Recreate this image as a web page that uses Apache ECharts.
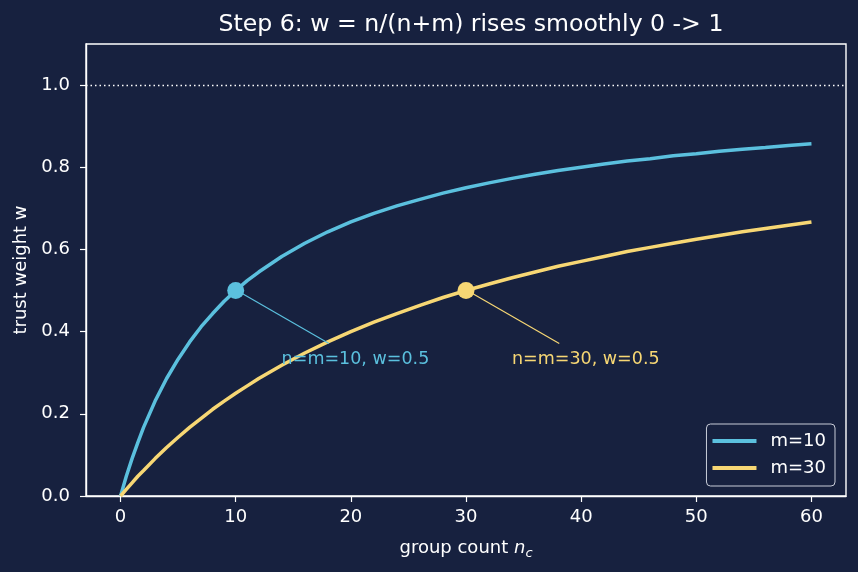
<!DOCTYPE html>
<html>
<head>
<meta charset="utf-8">
<script src="https://cdn.jsdelivr.net/npm/echarts@6/dist/echarts.min.js"></script>
<style>
  html, body { margin: 0; padding: 0; background: #17213f; }
  #chart { width: 858px; height: 572px; }
</style>
</head>
<body>
<div id="chart"></div>
<script>
// group counts n and the trust weight
const nValues = [0, 0.5, 1, 1.5, 2, 3, 4, 5, 6, 7, 8, 9, 10, 11, 12, 14, 16, 18, 20, 22, 24, 26, 28, 30,
  32, 34, 36, 38, 40, 42, 44, 46, 48, 50, 52, 54, 56, 58, 60]
const wM10 = [0, 0.048, 0.091, 0.13, 0.167, 0.231, 0.286, 0.333, 0.375, 0.412, 0.444, 0.474, 0.5, 0.524, 0.545,
  0.583, 0.615, 0.643, 0.667, 0.688, 0.706, 0.722, 0.737, 0.75, 0.762, 0.773, 0.783, 0.792, 0.8,
  0.808, 0.815, 0.821, 0.828, 0.833, 0.839, 0.844, 0.848, 0.853, 0.857]
const wM30 = [0, 0.016, 0.032, 0.048, 0.062, 0.091, 0.118, 0.143, 0.167, 0.189, 0.211, 0.231, 0.25, 0.268, 0.286,
  0.318, 0.348, 0.375, 0.4, 0.423, 0.444, 0.464, 0.483, 0.5, 0.516, 0.531, 0.545, 0.559, 0.571,
  0.583, 0.595, 0.605, 0.615, 0.625, 0.634, 0.643, 0.651, 0.659, 0.667]
const seriesNames = ['m=10', 'm=30']
const xTicks = [0, 10, 20, 30, 40, 50, 60]
const yTicks = [0, 0.2, 0.4, 0.6, 0.8, 1.0]
// highlighted points (n = m, w = 0.5) and their notes
const markN = [10, 30]
const markW = [0.5, 0.5]
const noteText = ['n=m=10, w=0.5', 'n=m=30, w=0.5']
const noteAt = [[20.4, 0.333], [40.4, 0.333]]
const arrowFrom = [[18.1, 0.371], [38.1, 0.371]]
const arrowTo = [[10.6, 0.492], [30.6, 0.492]]

const colors = ['#5bc0de', '#f7d774']
const fg = '#ffffff'
const font = 'DejaVu Sans'

function makeSeries (i, values) {
  return {
    name: seriesNames[i],
    type: 'line',
    showSymbol: false,
    data: nValues.map((n, k) => [n, values[k]]),
    lineStyle: { width: 3.5, color: colors[i] },
    itemStyle: { color: colors[i] },
    z: 3,
    markPoint: {
      silent: true,
      data: [
        { coord: [markN[i], markW[i]], symbol: 'circle', symbolSize: 17, itemStyle: { color: colors[i] }, label: { show: false } },
        { coord: noteAt[i], symbol: 'circle', symbolSize: 0,
          label: { show: true, formatter: noteText[i], color: colors[i], fontSize: 17.5, fontFamily: font, position: 'inside' } }
      ]
    },
    markLine: {
      silent: true,
      symbol: ['none', 'arrow'],
      symbolSize: [0, 7],
      label: { show: false },
      lineStyle: { color: colors[i], width: 1.2, type: 'solid' },
      data: [[{ coord: arrowFrom[i] }, { coord: arrowTo[i] }]]
    }
  }
}

const chart = echarts.init(document.getElementById('chart'))
const option = {
  backgroundColor: '#17213f',
  animation: false,
  textStyle: { fontFamily: font },
  title: {
    text: 'Step 6: w = n/(n+m) rises smoothly 0 -> 1',
    left: 466,
    textAlign: 'center',
    top: 8,
    textStyle: { color: fg, fontSize: 23.6, fontWeight: 'normal', fontFamily: font }
  },
  grid: {
    left: 86, right: 12, top: 44, bottom: 76,
    outerBoundsMode: 'none',
    show: true, borderColor: fg, borderWidth: 1.4, backgroundColor: 'transparent'
  },
  legend: {
    orient: 'vertical',
    right: 23,
    bottom: 86,
    backgroundColor: '#17213f',
    borderColor: '#c8ccd8',
    borderWidth: 1,
    borderRadius: 4,
    padding: [8, 9, 9, 6],
    itemGap: 9,
    itemWidth: 44,
    itemHeight: 4,
    icon: 'rect',
    textStyle: { color: fg, fontSize: 18, fontFamily: font, padding: [0, 0, 0, 9] },
    data: seriesNames
  },
  xAxis: {
    type: 'value',
    min: -3,
    max: 63,
    name: 'group count {i|n}{s|c}',
    nameLocation: 'middle',
    nameGap: 41,
    nameTextStyle: {
      color: fg, fontSize: 18, fontFamily: font,
      rich: {
        i: { fontStyle: 'italic', fontSize: 18, color: fg, fontFamily: font },
        s: { fontStyle: 'italic', fontSize: 13, color: fg, fontFamily: font, padding: [10, 0, 0, 0] }
      }
    },
    axisLine: { show: true, onZero: false, lineStyle: { color: fg, width: 1.4 } },
    axisTick: { show: true, length: 6, customValues: xTicks, lineStyle: { color: fg, width: 1.2 } },
    axisLabel: { color: fg, fontSize: 18, margin: 12, customValues: xTicks },
    splitLine: { show: false }
  },
  yAxis: {
    type: 'value',
    min: 0,
    max: 1.1,
    name: 'trust weight w',
    nameLocation: 'middle',
    nameGap: 55,
    nameTextStyle: { color: fg, fontSize: 18, fontFamily: font },
    axisLine: { show: true, onZero: false, lineStyle: { color: fg, width: 1.4 } },
    axisTick: { show: true, length: 6, customValues: yTicks, lineStyle: { color: fg, width: 1.2 } },
    axisLabel: { color: fg, fontSize: 18, margin: 16, customValues: yTicks, formatter: v => v.toFixed(1) },
    splitLine: { show: false }
  },
  series: [
    makeSeries(0, wM10),
    makeSeries(1, wM30),
    {
      name: 'ceiling',
      type: 'line',
      data: [],
      markLine: {
        silent: true,
        symbol: ['none', 'none'],
        label: { show: false },
        lineStyle: { color: fg, width: 1.3, type: [1.5, 3] },
        data: [{ yAxis: 1.0 }]
      }
    }
  ]
}
chart.setOption(option)
</script>
</body>
</html>
